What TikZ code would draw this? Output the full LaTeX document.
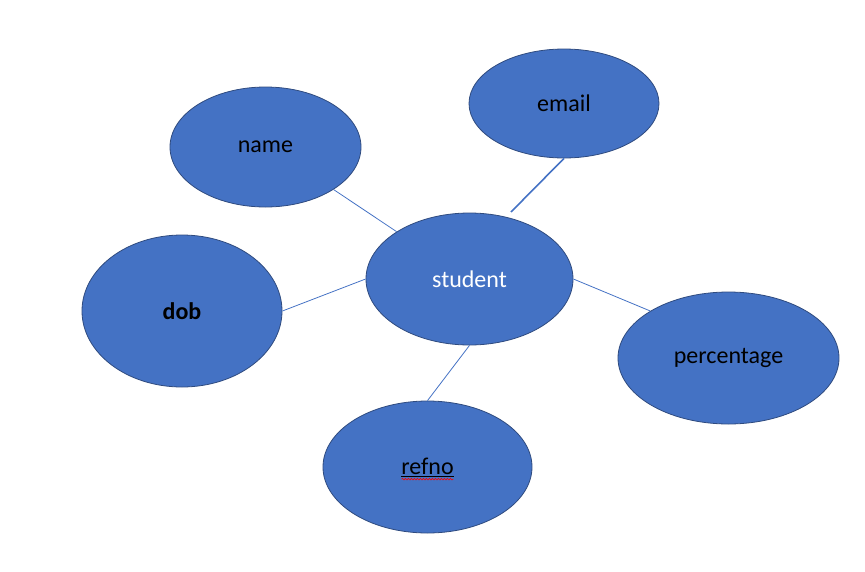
\documentclass[tikz,border=0pt]{standalone}
\usepackage{fontspec}
\setmainfont{Carlito}
\usetikzlibrary{shapes.geometric,decorations.pathmorphing}
\definecolor{entblue}{HTML}{4472C4}
\definecolor{entedge}{HTML}{2F4B7F}
\tikzset{attr/.style={ellipse, draw=entedge, line width=0.8pt, fill=entblue,
        inner sep=0pt, font=\fontsize{24}{28}\selectfont, text=black},
    link/.style={draw=entblue, line width=0.8pt},
    }

\begin{document}
\begin{tikzpicture}[x=1pt,y=-1pt]
	\useasboundingbox (0,0) rectangle (865,571);
	\node[attr, minimum width=207pt, minimum height=132pt, text=white] (student) at (469.5,279) {student};
	\node[attr, minimum width=191pt, minimum height=120pt] (name) at (265.5,147) {name};
	\node[attr, minimum width=190pt, minimum height=109pt] (email) at (564,103.5) {email};
	\node[attr, minimum width=200pt, minimum height=152pt, font=\fontsize{24}{28}\selectfont\bfseries] (dob) at (182,311) {dob};
	\node[attr, minimum width=221pt, minimum height=132pt] (percentage) at (728.5,358) {percentage};
	\node[attr, minimum width=209pt, minimum height=132pt] (refno) at (427.5,467) {\underline{refno}};
	\coordinate (emailEnd) at (511,212);

	\draw[link] (name.-32) -- (student.147);
	\draw[link, line width=1.6pt] (email.south) -- (emailEnd);
	\draw[link] (dob.east) -- (student.west);
	\draw[link] (student.east) -- (percentage.149);
	\draw[link] (student.south) -- (refno.north);
	% spell check mark under refno
	\draw[red, line width=0.6pt, decorate, decoration={snake, amplitude=0.8pt, segment length=3pt}]
		([xshift=-26pt,yshift=-5pt]refno.base) -- ([xshift=26pt,yshift=-5pt]refno.base);
\end{tikzpicture}
\end{document}
